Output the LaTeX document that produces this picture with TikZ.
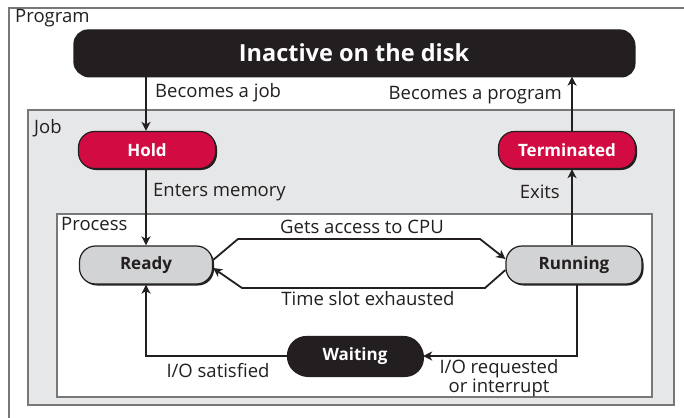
\documentclass[tikz,border=0pt]{standalone}
\usepackage{fontspec}
\setmainfont{Open Sans}
\usepackage{tikz}
\usetikzlibrary{shapes,arrows.meta,positioning,calc,shadows}
\definecolor{inkblack}{RGB}{35,31,32}
\definecolor{holdred}{RGB}{210,12,66}
\definecolor{jobgray}{RGB}{230,231,232}
\definecolor{stategray}{RGB}{209,211,212}
\definecolor{framegray}{RGB}{120,120,120}

\begin{document}
\begin{tikzpicture}[x=1pt,y=-1pt,
    lbl/.style={font=\fontsize{18.5}{21}\selectfont, text=inkblack, inner sep=1pt},
    state/.style={draw=inkblack, line width=1.2pt, rounded corners=16pt,
        minimum width=137pt, minimum height=37pt,
        font=\fontsize{17}{20}\selectfont\bfseries,
        drop shadow={shadow xshift=1.5pt, shadow yshift=-1.5pt, fill=inkblack, opacity=1}},
    redstate/.style={state, fill=holdred, text=white},
    graystate/.style={state, fill=stategray, text=inkblack},
    blackstate/.style={state, fill=inkblack, text=white},
    flow/.style={draw=inkblack, line width=1.8pt, -{Stealth[length=9pt,width=9pt,inset=2.5pt]}},
    frame/.style={draw=framegray, line width=1.5pt}]
    \useasboundingbox (0,0) rectangle (684,417);

    % Frames: program > job > process
    \draw[frame] (9,8) rectangle (700,430);
    \draw[frame, fill=jobgray] (28,110) rectangle (674,405);
    \draw[frame, line width=1.2pt, fill=white] (57,214) rectangle (652,397);
    \node[lbl, anchor=west] (programlbl) at (14,18) {Program};
    \node[lbl, anchor=west] (joblbl) at (33,128) {Job};
    \node[lbl, anchor=west] (processlbl) at (60,224) {Process};

    % States
    \node[blackstate, minimum width=560pt, minimum height=46pt, rounded corners=14pt,
        font=\fontsize{23.5}{27}\selectfont\bfseries] (disk) at (354,53) {Inactive on the disk};
    \node[redstate] (hold) at (147,150) {Hold};
    \node[redstate] (terminated) at (567,150) {Terminated};
    \node[graystate, minimum width=133pt, minimum height=38pt] (ready) at (146,265) {Ready};
    \node[graystate, minimum width=136pt, minimum height=38pt] (running) at (574,265) {Running};
    \node[blackstate, minimum width=135pt, minimum height=39pt, rounded corners=19pt] (waiting) at (355,356) {Waiting};

    % Bend points
    \coordinate (jobx) at (146,0);
    \coordinate (exitx) at (572,0);
    \coordinate (cpuL) at (238,239);
    \coordinate (cpuR) at (480,239);
    \coordinate (slotR) at (485,288);
    \coordinate (slotL) at (242,288);

    % Transitions
    \draw[flow] (disk.south -| jobx) -- (hold.north -| jobx);
    \draw[flow] (hold.south -| jobx) -- (ready.north -| jobx);
    \draw[flow] (terminated.north -| exitx) -- (disk.south -| exitx);
    \draw[flow] (running.north -| exitx) -- (terminated.south -| exitx);
    \draw[flow] ([yshift=5pt]ready.east) -- (cpuL) -- (cpuR) -- ([yshift=6pt]running.west);
    \draw[flow] ([yshift=-5pt]running.west) -- (slotR) -- (slotL) -- ([yshift=-3pt]ready.east);
    \draw[flow] ([xshift=3pt]running.south) |- (waiting.east);
    \draw[flow] (waiting.west) -| (ready.south -| jobx);

    % Transition labels
    \node[lbl, anchor=west] (becjob) at (154,93) {Becomes a job};
    \node[lbl, anchor=east] (becprog) at (563,95) {Becomes a program};
    \node[lbl, anchor=west] (entmem) at (152,192) {Enters memory};
    \node[lbl, anchor=east] (exits) at (561,192) {Exits};
    \node[lbl] (getcpu) at (362,227) {Gets access to CPU};
    \node[lbl] (slot) at (368,299) {Time slot exhausted};
    \node[lbl] (iosat) at (218,371) {I/O satisfied};
    \node[lbl, align=center, font=\fontsize{18.5}{15}\selectfont] (ioreq) at (499,378) {I/O requested\\or interrupt};
\end{tikzpicture}
\end{document}
